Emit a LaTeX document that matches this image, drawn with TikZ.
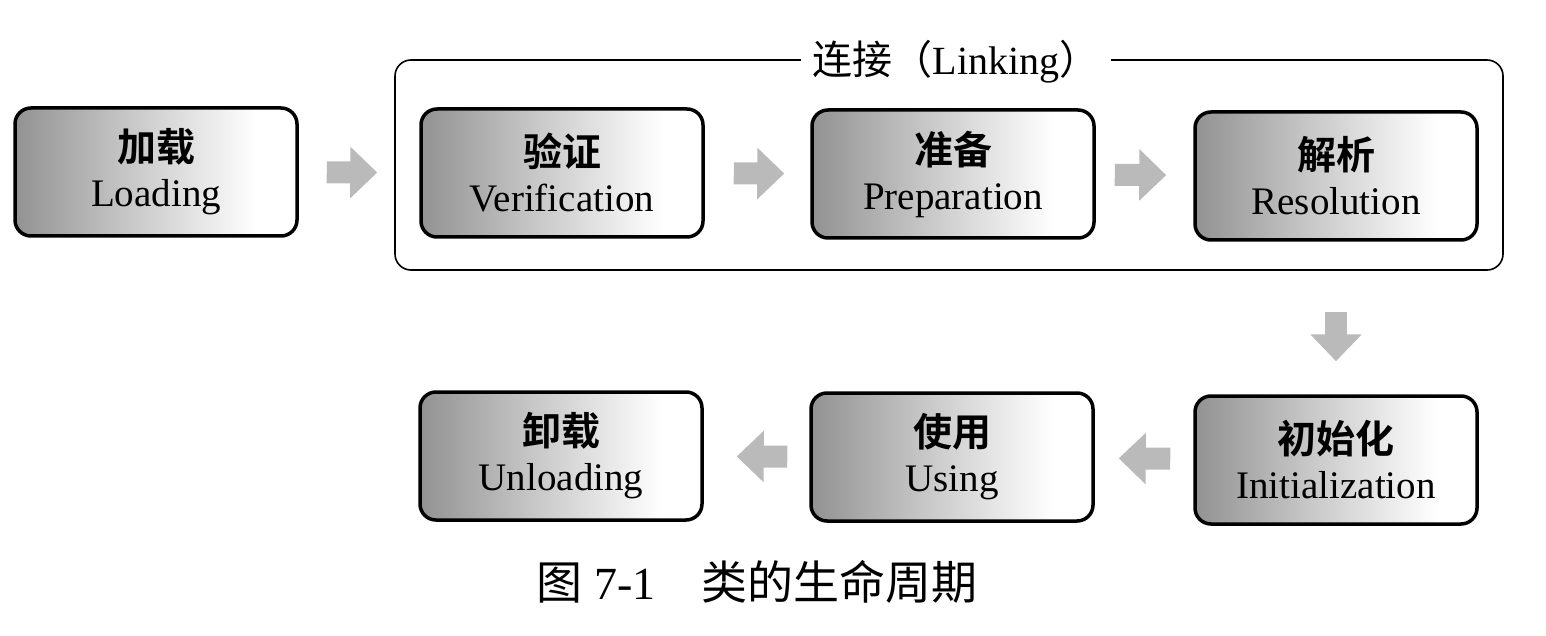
\documentclass[tikz,border=0pt]{standalone}
\usepackage{fontspec}
\setmainfont{Liberation Serif}
\newfontfamily\cjk{Noto Sans CJK SC}
\newfontfamily\cjkb{Noto Sans CJK SC Bold}
\usetikzlibrary{arrows.meta,calc}
\pgfdeclarehorizontalshading{boxshade}{100bp}{color(0bp)=(black!75); color(20bp)=(black!48); color(45bp)=(black!22); color(68bp)=(white); color(100bp)=(white)}
\tikzset{
  stage/.style={draw=black, line width=3.5pt, rounded corners=16pt, shading=boxshade,
    minimum width=282pt, minimum height=128pt, align=center, inner sep=0pt,
    font={\fontsize{39}{45}\selectfont}},
  frame/.style={draw=black, line width=1.6pt, rounded corners=16pt, minimum width=1108pt, minimum height=210pt},
  fat/.style={line width=22pt, draw=black!27, -{Triangle[length=27pt,width=50pt]}},
}
\begin{document}
\begin{tikzpicture}[x=1pt,y=-1pt]
\useasboundingbox (0,0) rectangle (1546,636);
\node[frame] (linking) at (949,165) {};
\node[fill=white, inner xsep=12pt, font={\fontsize{40}{45}\selectfont}] (ltitle) at (956,62) {{\cjk 连接（}Linking{\cjk ）}};
\node[stage] (load) at (156,172) {{\cjkb 加载}\\Loading};
\node[stage] (ver) at (562,173) {{\cjkb 验证}\\Verification};
\node[stage] (prep) at (953,174) {{\cjkb 准备}\\Preparation};
\node[stage] (res) at (1336,176) {{\cjkb 解析}\\Resolution};
\node[stage] (init) at (1336,460) {{\cjkb 初始化}\\Initialization};
\node[stage] (use) at (952,457) {{\cjkb 使用}\\Using};
\node[stage] (unload) at (561,456) {{\cjkb 卸载}\\Unloading};
\draw[fat, shorten <=28pt, shorten >=42pt] (load) -- (ver);
\draw[fat, shorten <=29pt, shorten >=26pt] (ver) -- (prep);
\draw[fat, shorten <=19pt, shorten >=27pt] (prep) -- (res);
\draw[fat, shorten <=70pt, shorten >=33pt] (res) -- (init);
\draw[fat, shorten <=23pt, shorten >=24pt] (init) -- (use);
\draw[fat, shorten <=22pt, shorten >=33pt] (use) -- (unload);
\node[font={\fontsize{46}{52}\selectfont}] (caption) at (757,582) {{\cjk 图} 7-1\hspace{1em}{\cjk 类的生命周期}};
\end{tikzpicture}
\end{document}
